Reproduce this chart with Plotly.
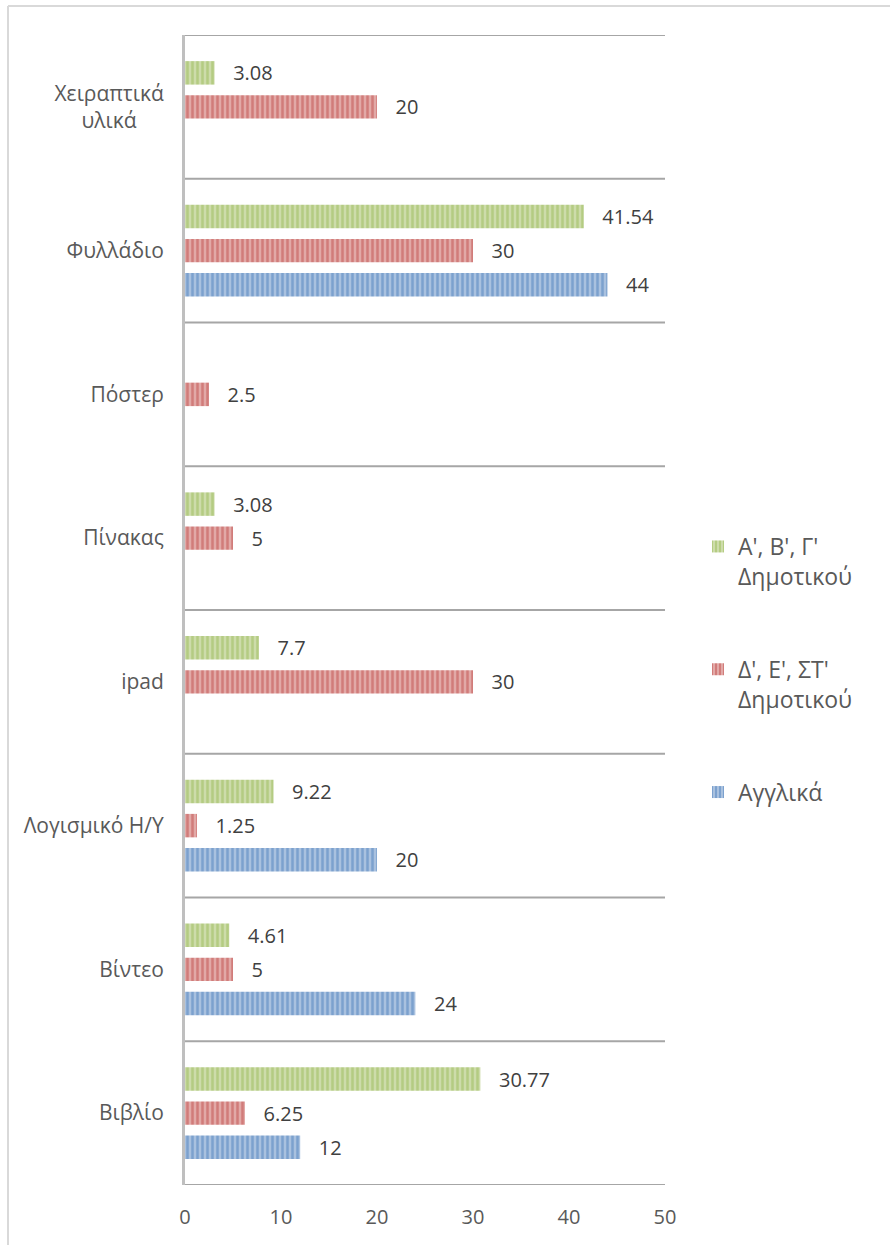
import plotly.graph_objects as go

categories = ["Βιβλίο", "Βίντεο", "Λογισμικό Η/Υ", "ipad", "Πίνακας", "Πόστερ", "Φυλλάδιο",
              "Χειραπτικά<br>υλικά\u00a0\u00a0\u00a0\u00a0\u00a0"]
series_names = ["Αγγλικά", "Δ', Ε', ΣΤ'<br>Δημοτικού", "Α', Β', Γ'<br>Δημοτικού"]
anglika = [12, 24, 20, None, None, None, 44, None]
d_e_st = [6.25, 5, 1.25, 30, 5, 2.5, 30, 20]
a_b_g = [30.77, 4.61, 9.22, 7.7, 3.08, None, 41.54, 3.08]
x_ticks = [0, 10, 20, 30, 40, 50]

series_values = [anglika, d_e_st, a_b_g]
fg_colors = ["#4f81bd", "#c0504d", "#9bbb59"]
bg_colors = ["#a9c1df", "#e2a9a7", "#cddcaa"]
legend_ranks = [3, 2, 1]

FONT = "Open Sans"
fig = go.Figure()
for name, vals, fg, bg, rank in zip(series_names, series_values, fg_colors, bg_colors, legend_ranks):
    texts = ["" if v is None else "\u00a0\u00a0\u00a0" + f"{v:g}" for v in vals]
    fig.add_trace(go.Bar(
        y=categories, x=vals, name=name, orientation="h",
        legendgroup=name, legendrank=rank,
        marker=dict(color=bg, line=dict(width=0),
                    pattern=dict(shape="|", fgcolor=fg, bgcolor=bg, size=5, solidity=0.5)),
        text=texts, textposition="outside", constraintext="none", cliponaxis=False,
        textfont=dict(family=FONT, size=20, color="#404040"),
        hoverinfo="x+y",
    ))

shapes = []
for i in range(len(categories) + 1):
    shapes.append(dict(type="line", xref="paper", yref="y", x0=0, x1=1,
                       y0=i - 0.5, y1=i - 0.5, line=dict(color="#a6a6a6", width=2), layer="below"))
# outer chart border (top and left visible)
L, T, W, H = 185, 35, 480, 1150
def px(x):
    return (x - L) / W
def py(y):
    return (T + H - y) / H
shapes.append(dict(type="line", xref="paper", yref="paper", x0=px(8), x1=px(900),
                   y0=py(6), y1=py(6), line=dict(color="#d9d9d9", width=2)))
shapes.append(dict(type="line", xref="paper", yref="paper", x0=px(8), x1=px(8),
                   y0=py(6), y1=py(1260), line=dict(color="#d9d9d9", width=2)))

fig.update_layout(
    width=890, height=1245,
    margin=dict(l=L, r=890 - L - W, t=T, b=1245 - T - H),
    paper_bgcolor="white", plot_bgcolor="white",
    barmode="group", bargap=0.29, bargroupgap=0.31,
    font=dict(family=FONT, size=19, color="#595959"),
    xaxis=dict(range=[0, 50], tickvals=x_ticks, showgrid=False, zeroline=False,
               showline=False, ticks="", ticklabelstandoff=18,
               tickfont=dict(family=FONT, size=20, color="#595959")),
    yaxis=dict(type="category", categoryorder="array", categoryarray=categories,
               range=[-0.5, len(categories) - 0.5],
               showgrid=False, zeroline=False, showline=True, linecolor="#bfbfbf", linewidth=3,
               ticks="", ticklabelstandoff=14,
               tickfont=dict(family=FONT, size=21, color="#595959")),
    legend=dict(x=px(698), xanchor="left", y=py(525), yanchor="top",
                traceorder="grouped", tracegroupgap=60, valign="top",
                font=dict(family=FONT, size=23, color="#595959"),
                bgcolor="rgba(0,0,0,0)"),
    shapes=shapes,
    showlegend=True,
)

fig.write_html("out.html")
